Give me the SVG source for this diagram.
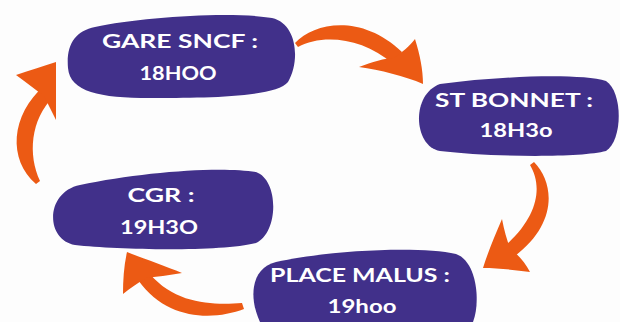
<svg xmlns="http://www.w3.org/2000/svg" width="620" height="322" viewBox="0 0 620 322">
<style>
.blob{fill:#41308a}
.arrow{fill:#ec5a14}
.t{fill:#ffffff;font-family:Lato,"Open Sans","DejaVu Sans",sans-serif;font-weight:700;font-size:19px;text-anchor:middle}
</style>
<rect width="620" height="322" fill="#fdfdfd"/>
<g id="connectors">
  <g id="a1">
    <path class="arrow" d="M295,43 C315,22 362,14 402,52 L393,64 C362,37 322,34 298,47 Z"/>
    <path class="arrow" d="M423,84 C405,76 380,70 359,67 C372,62 385,58 394,58 C402,52 410,46 415,39 C420,55 423,70 423,84 Z"/>
  </g>
  <g id="a2">
    <path class="arrow" d="M534,162 C556,185 556,225 515,256 L505,246 C540,215 542,185 530,165 Z"/>
    <path class="arrow" d="M483,268 C488,252 495,235 502,219 C504,230 507,240 510,248 C518,255 525,262 530,272 C515,270 498,268 483,268 Z"/>
  </g>
  <g id="a3">
    <path class="arrow" d="M244,309 C215,320 168,322 138,280 L150,274 C176,305 215,305 242,303 Z"/>
    <path class="arrow" d="M127,252 C142,258 165,266 182,273 C170,275 155,277 146,278 C138,283 130,288 123,294 C123,280 124,265 127,252 Z"/>
  </g>
  <g id="a4">
    <path class="arrow" d="M36,184 C8,160 10,115 45,85 L54,96 C30,120 28,155 40,181 Z"/>
    <path class="arrow" d="M56,62 C56,80 56,100 56,120 C52,112 48,104 44,96 C36,90 26,82 16,75 C30,70 44,66 56,62 Z"/>
  </g>
</g>
<g id="n1">
  <path class="blob" d="M95,27 C140,17 232,11 272,18 C298,24 300,62 288,82 C275,98 200,98 150,98 C100,98 70,92 68,68 C66,45 75,31 95,27 Z"/>
  <text class="t" x="180" y="48" textLength="156" lengthAdjust="spacingAndGlyphs">GARE SNCF :</text>
  <text class="t" x="178" y="80" textLength="77" lengthAdjust="spacingAndGlyphs">18HOO</text>
</g>
<g id="n2">
  <path class="blob" d="M440,84 C500,76 580,73 606,81 C623,92 623,140 606,151 C580,158 490,157 440,151 C414,147 410,95 440,84 Z"/>
  <text class="t" x="514" y="107" textLength="158" lengthAdjust="spacingAndGlyphs">ST BONNET :</text>
  <text class="t" x="516" y="137" textLength="73" lengthAdjust="spacingAndGlyphs">18H3o</text>
</g>
<g id="n3">
  <path class="blob" d="M80,185 C140,172 220,166 256,172 C279,180 279,232 256,243 C220,252 120,250 75,245 C45,240 45,192 80,185 Z"/>
  <text class="t" x="161" y="202" textLength="67" lengthAdjust="spacingAndGlyphs">CGR :</text>
  <text class="t" x="159" y="234" textLength="78" lengthAdjust="spacingAndGlyphs">19H3O</text>
</g>
<g id="n4">
  <path class="blob" d="M276,262 C330,250 420,246 456,254 C479,262 481,310 471,326 L262,326 C248,300 250,268 276,262 Z"/>
  <text class="t" x="360" y="282" textLength="180" lengthAdjust="spacingAndGlyphs">PLACE MALUS :</text>
  <text class="t" x="362" y="313" textLength="69" lengthAdjust="spacingAndGlyphs">19hoo</text>
</g>
</svg>
